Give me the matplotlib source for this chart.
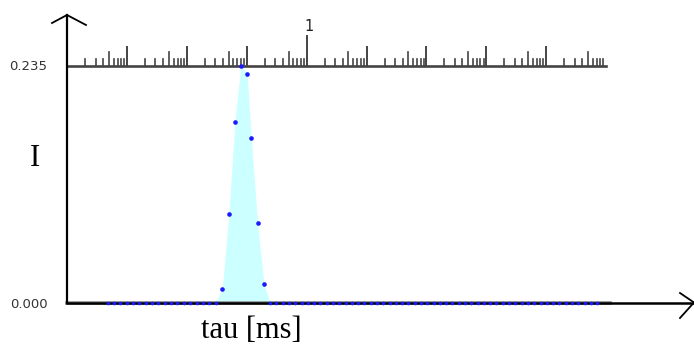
import numpy as np
import matplotlib.pyplot as plt

# peak points (tau in ms, intensity)
tau_peak = [0.0391, 0.0504, 0.0636, 0.080, 0.102, 0.119, 0.152, 0.194]
I_peak = [0.0134, 0.0880, 0.1793, 0.235, 0.2266, 0.1631, 0.0791, 0.0180]

# zero-intensity samples left and right of the peak (log-spaced grid)
tau_left = np.logspace(-3.32, -1.52, 18)
tau_right = np.logspace(-0.61, 4.85, 53)
I_left = [0.0] * len(tau_left)
I_right = [0.0] * len(tau_right)

# top log scale: decades shown
decades = [1e-4, 1e-3, 1e-2, 1e-1, 1, 10, 100, 1e3, 1e4]
y_labels = ['0.000', '0.235']
y_ticks = [0.0, 0.235]

W, H = 694, 353
fig = plt.figure(figsize=(W / 100, H / 100), dpi=100)
x0, x1 = 67, 694
y_base, y_top = 302.5, 15
ax = fig.add_axes([x0 / W, (H - y_base) / H, (x1 - x0) / W, (y_base - y_top) / H])

px_y = 0.235 / 237.0  # data units per pixel (vertical)
ax.set_xscale('log')
ax.set_xlim(1e-4, 10 ** ((x1 - x0) / 59.9 - 4))
ax.set_ylim(0, (y_base - y_top) * px_y)
for s in ax.spines.values():
    s.set_visible(False)
ax.set_xticks([])
ax.minorticks_off()
ax.set_yticks(y_ticks)
ax.set_yticklabels(y_labels, fontsize=9.5, color='#333333')
ax.tick_params(axis='y', length=0, pad=14)

# filled peak
tau_fill = [tau_left[-1]] + tau_peak + [tau_right[0]]
I_fill = [0.0] + I_peak + [0.0]
ax.fill_between(tau_fill, I_fill, 0, color='#ccffff', lw=0, zorder=1)

# baseline and axes
ax.plot([1e-4, 1.15e5], [0, 0], color='#888888', lw=2.6, clip_on=False, zorder=2)
ax.plot([0, 1], [0, 0], transform=ax.transAxes, color='black', lw=1.8, clip_on=False, zorder=3)
ax.plot([0, 0], [0, 1], transform=ax.transAxes, color='black', lw=1.6, clip_on=False, zorder=3)
# arrow heads
ax.plot([680 / W, 694 / W, 680 / W], [(H - 293) / H, (H - 302.5) / H, (H - 318) / H],
        transform=fig.transFigure, color='black', lw=1.3, clip_on=False)
ax.plot([52 / W, 67 / W, 86 / W], [(H - 23) / H, (H - 15) / H, (H - 25) / H],
        transform=fig.transFigure, color='black', lw=1.3, clip_on=False)

# top log axis drawn by hand
ax.plot([1e-4, 1e5], [0.235, 0.235], color='#444444', lw=1.9, zorder=2, clip_on=False)
for d in decades:
    for m in range(2, 10):
        h = 14 if m == 5 else 7
        ax.plot([d * m, d * m], [0.235, 0.235 + h * px_y], color='#444444', lw=1.2, clip_on=False)
    if d > 1e-4:
        h = 30 if d == 1 else 19
        ax.plot([d, d], [0.235, 0.235 + h * px_y], color='#444444', lw=1.4, clip_on=False)
ax.text(1.12, 0.235 + 39 * px_y, '1', fontsize=10.5, ha='center', va='center', color='#222222')

# data points
ax.scatter(tau_left, I_left, s=7, color='#1a1aff', zorder=4, lw=0, clip_on=False)
ax.scatter(tau_right, I_right, s=7, color='#1a1aff', zorder=4, lw=0, clip_on=False)
ax.scatter(tau_peak, I_peak, s=11, color='#1a1aff', zorder=4, lw=0, clip_on=False)

fig.text(35 / W, 1 - 158 / H, 'I', fontsize=22, family='Liberation Serif', ha='center', va='center')
fig.text(251 / W, 1 - 330 / H, 'tau [ms]', fontsize=22, family='Liberation Serif', ha='center', va='center')

fig.savefig('out.png', dpi=100)
